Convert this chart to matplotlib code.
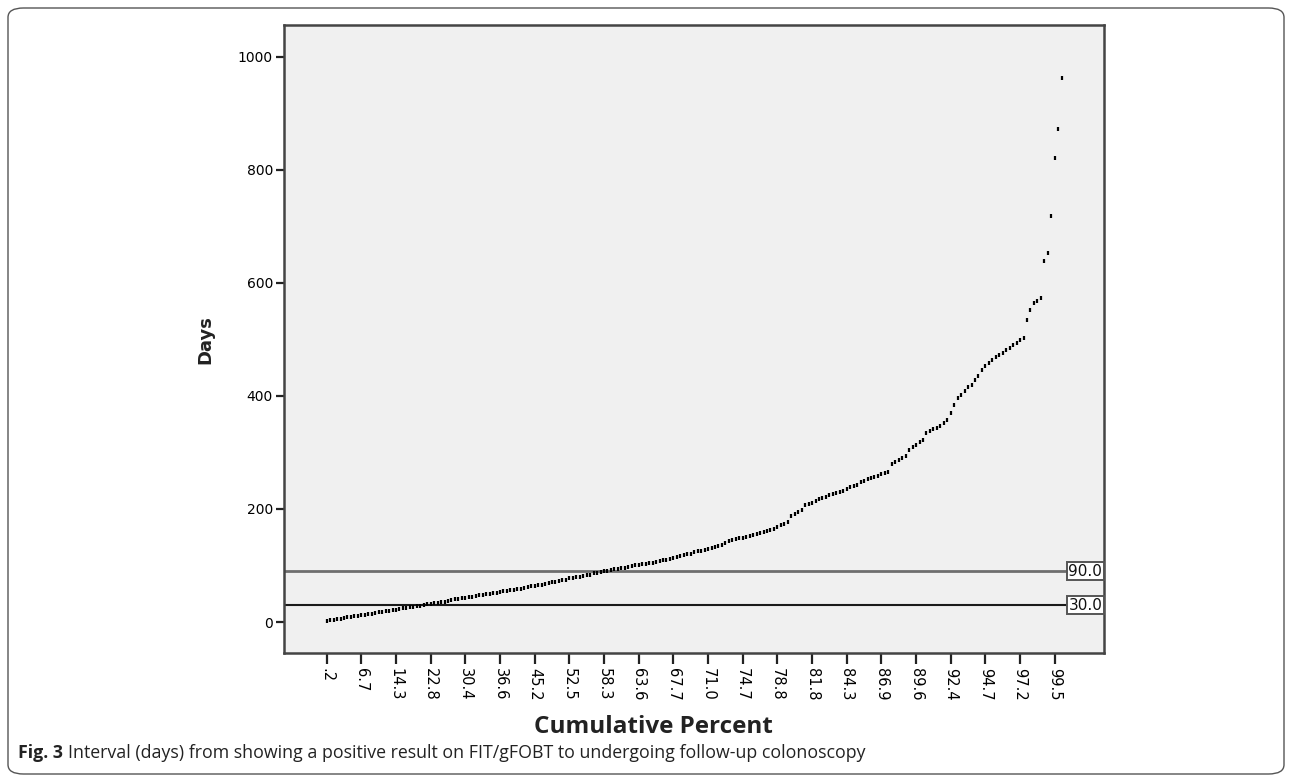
import matplotlib
matplotlib.use("Agg")
import matplotlib.pyplot as plt
from matplotlib.patches import FancyBboxPatch

# Cumulative-percent labels shown on every 10th category
cum_percent_labels = ['.2', '6.7', '14.3', '22.8', '30.4', '36.6', '45.2', '52.5',
                      '58.3', '63.6', '67.7', '71.0', '74.7', '78.8', '81.8', '84.3',
                      '86.9', '89.6', '92.4', '94.7', '97.2', '99.5']
label_every = 10

# Interval in days for each cumulative-percent category (sorted)
days = [
    2, 3, 4, 5, 6, 7, 8, 9, 10, 11, 12, 13, 14, 15, 16, 17, 18, 19, 20, 21,
    22, 23, 24, 25, 26, 27, 28, 29, 30, 31,
    32, 33, 34, 35, 36,
    38, 39, 40, 41, 42, 43, 44, 45, 46, 47, 48, 49, 50, 51, 52, 53, 54, 55, 56, 57,
    58, 59, 60, 62, 63, 64, 65, 66, 68, 69, 70, 71, 73, 74, 75, 77, 78, 79, 80, 82,
    83, 84, 86, 87, 89,
    90, 91, 92, 93, 94, 95, 96, 98, 99, 100,
    101, 102, 103, 104, 105, 107, 108, 109, 110, 112, 113, 115,
    117, 118, 120, 121, 123, 125, 126, 128, 130, 131, 133, 135, 137,
    140, 143, 145, 147, 148, 149, 151, 152, 154, 156, 158, 159, 161, 163, 165,
    168, 171, 174, 177,
    188, 191, 194, 198, 207, 209, 211, 214, 217, 220, 222, 224, 226, 228, 230,
    232, 235, 238, 240, 243, 247, 250, 253, 255, 257, 259, 261, 263, 266,
    280, 283, 286, 290, 293,
    305, 309, 313, 318, 322,
    334, 338, 341, 344, 347, 352, 357,
    370, 384, 396, 402, 408, 416, 420, 428, 436, 445, 452, 458, 463, 468, 472,
    476, 481, 485, 490, 494, 498, 502,
    534, 552, 565, 568, 573, 639, 653, 718, 820, 872, 962,
]

# Reference lines (days) with their drawing colours
reference_days = [90.0, 30.0]
reference_colors = ['#6e6e6e', '#1a1a1a']
reference_widths = [2.0, 1.5]

y_ticks = [0, 200, 400, 600, 800, 1000]

W, H = 1292, 780
fig = plt.figure(figsize=(W / 100, H / 100), dpi=100)
fig.patch.set_facecolor('white')

# Rounded outer border of the figure panel
border = FancyBboxPatch((8 / W, 6 / H), (W - 16) / W, (H - 14) / H,
                        boxstyle="round,pad=0,rounding_size=0.012",
                        transform=fig.transFigure, facecolor='none',
                        edgecolor='#555555', linewidth=1.0)
fig.patches.append(border)

# Plot area in pixel coordinates
left, right, top, bottom = 284, 1104, 25, 653
ax = fig.add_axes([left / W, (H - bottom) / H, (right - left) / W, (bottom - top) / H])
ax.set_facecolor('#f0f0f0')

x = list(range(len(days)))
ax.plot(x, days, linestyle='none', marker='|', markersize=3.3,
        markeredgewidth=1.6, color='black', zorder=3)

for val, col, lw in zip(reference_days, reference_colors, reference_widths):
    ax.axhline(val, color=col, linewidth=lw, zorder=2)
    ax.text(0.998, val, f'{val:.1f}', transform=ax.get_yaxis_transform(),
            ha='right', va='center', fontsize=11, color='#111111', zorder=4,
            bbox=dict(boxstyle='square,pad=0.1', facecolor='white',
                      edgecolor='#555555', linewidth=1.4))

ax.set_xlim(-12.3, 224.2)
ax.set_ylim(-54.8, 1056)

tick_pos = [i * label_every for i in range(len(cum_percent_labels))]
ax.set_xticks(tick_pos)
ax.set_xticklabels(cum_percent_labels, rotation=-90, fontsize=10.5)
ax.set_yticks(y_ticks)
ax.set_yticklabels([str(v) for v in y_ticks], fontsize=10)

ax.tick_params(axis='x', direction='out', length=8, width=1.6, color='#222222', pad=3)
ax.tick_params(axis='y', direction='out', length=6, width=1.6, color='#222222', pad=2)

for side in ['left', 'right', 'top', 'bottom']:
    ax.spines[side].set_color('#444444')
    ax.spines[side].set_linewidth(1.8)

# Axis titles
fig.text(205 / W, 1 - 340 / H, 'Days', rotation=90, ha='center', va='center',
         fontsize=13, fontweight='bold', color='#222222')
fig.text(653 / W, 1 - 727 / H, 'Cumulative Percent', ha='center', va='center',
         fontsize=17.5, fontweight='bold', family='Open Sans', color='#222222')

# Caption: bold figure number followed by regular text
cap_y = 1 - 753 / H
t1 = fig.text(18 / W, cap_y, 'Fig. 3', ha='left', va='center', fontsize=12.8,
              fontweight='bold', family='Open Sans', color='#222222')
fig.canvas.draw()
bb = t1.get_window_extent(renderer=fig.canvas.get_renderer())
fig.text((bb.x1 + 5) / W, cap_y,
         'Interval (days) from showing a positive result on FIT/gFOBT to undergoing follow-up colonoscopy',
         ha='left', va='center', fontsize=12.8, family='Open Sans', color='#222222')

fig.savefig('out.png', dpi=100)
